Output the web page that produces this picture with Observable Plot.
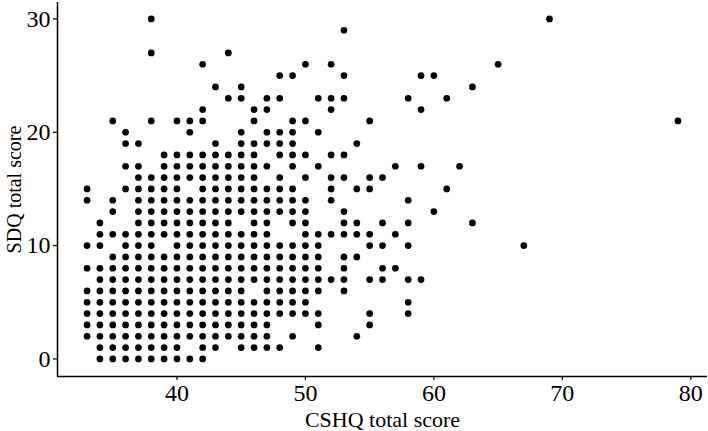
<!DOCTYPE html>
<html>
<head>
<meta charset="utf-8">
<script src="https://cdn.jsdelivr.net/npm/d3@7"></script>
<script src="https://cdn.jsdelivr.net/npm/@observablehq/plot@0.6"></script>
<style>
  html, body { margin: 0; padding: 0; background: #fff; }
  #chart svg { display: block; }
</style>
</head>
<body>
<div id="chart"></div>
<script>
// CSHQ total score values observed at each SDQ total score (0..30)
const sdq00 = [34,35,36,37,38,39,40,41,42];
const sdq01 = [34,35,36,37,38,39,40,42,43,45,46,47,48,51];
const sdq02 = [33,34,35,36,37,38,39,40,41,42,43,44,45,46,47,49,54];
const sdq03 = [33,34,35,36,37,38,39,40,41,42,43,44,45,46,47,51,55];
const sdq04 = [33,34,35,36,37,38,39,40,41,42,43,44,45,46,47,48,49,50,51,55,58];
const sdq05 = [33,34,35,36,37,38,39,40,41,42,43,44,45,46,47,48,49,50,58];
const sdq06 = [33,34,35,36,37,38,39,40,41,42,43,44,45,47,48,49,50,51,53];
const sdq07 = [34,35,36,37,38,39,40,41,42,43,44,45,46,47,48,49,50,51,52,53,55,56,58,59];
const sdq08 = [33,34,35,36,37,38,39,40,41,42,43,44,45,46,47,48,49,50,51,53,56,57];
const sdq09 = [35,36,37,38,39,40,41,42,43,44,45,46,47,48,49,50,51,53,54];
const sdq10 = [33,34,36,37,38,40,41,42,43,44,45,46,47,48,49,50,51,55,56,58,67];
const sdq11 = [34,35,36,37,38,39,40,41,42,43,44,45,46,47,50,51,52,53,54,55,57];
const sdq12 = [34,37,38,39,40,41,42,43,44,46,47,49,50,53,54,56,58,63];
const sdq13 = [35,37,38,39,40,41,42,43,44,45,46,47,48,49,50,53,60];
const sdq14 = [33,35,37,38,39,40,41,42,43,44,45,46,47,48,49,50,52,58];
const sdq15 = [33,36,37,38,39,40,42,43,44,45,46,47,48,49,52,54,55,61];
const sdq16 = [37,38,39,40,41,42,43,44,45,46,48,50,52,53,55,56];
const sdq17 = [36,37,39,40,41,42,43,44,45,46,47,49,51,57,59,62];
const sdq18 = [39,40,41,42,43,44,45,46,48,49,50,52,53];
const sdq19 = [36,37,43,45,46,47,48,49,54];
const sdq20 = [36,41,45,47,48,49,51];
const sdq21 = [35,38,40,41,42,46,49,50,55,79];
const sdq22 = [42,46,47,52,59];
const sdq23 = [44,45,47,48,51,52,53,58,61];
const sdq24 = [43,45,63];
const sdq25 = [48,49,53,59,60];
const sdq26 = [42,50,52,65];
const sdq27 = [38,44];
const sdq28 = [];
const sdq29 = [53];
const sdq30 = [38,69];

const rows = [sdq00, sdq01, sdq02, sdq03, sdq04, sdq05, sdq06, sdq07, sdq08, sdq09,
  sdq10, sdq11, sdq12, sdq13, sdq14, sdq15, sdq16, sdq17, sdq18, sdq19,
  sdq20, sdq21, sdq22, sdq23, sdq24, sdq25, sdq26, sdq27, sdq28, sdq29, sdq30];

const xTicks = [40, 50, 60, 70, 80];
const yTicks = [0, 10, 20, 30];
const xTitle = "CSHQ total score";
const yTitle = "SDQ total score";

const data = rows.flatMap((xs, sdq) => xs.map(cshq => ({cshq, sdq})));

const xDomain = [30.7, 81.3];
const yDomain = [-1.55, 31.45];

const chart = Plot.plot({
  width: 708,
  height: 431,
  marginLeft: 57,
  marginRight: 1,
  marginTop: 2,
  marginBottom: 55,
  style: {fontFamily: "'Liberation Serif', 'Times New Roman', serif", color: "#000", background: "#fff", overflow: "visible"},
  x: {domain: xDomain},
  y: {domain: yDomain},
  marks: [
    Plot.axisX({ticks: xTicks, tickSize: 4, tickPadding: 3, fontSize: 24, label: null, strokeWidth: 1.2}),
    Plot.axisY({ticks: yTicks, tickSize: 4, tickPadding: 3, fontSize: 24, label: null, strokeWidth: 1.2}),
    Plot.ruleY([yDomain[0]], {stroke: "#000", strokeWidth: 1.5}),
    Plot.ruleX([xDomain[0]], {stroke: "#000", strokeWidth: 1.5}),
    Plot.dot(data, {x: "cshq", y: "sdq", r: 3.35, fill: "#000", stroke: null}),
    Plot.text([xTitle], {frameAnchor: "bottom", textAnchor: "middle", lineAnchor: "middle", dy: 43, fontSize: 22, fill: "#000"}),
    Plot.text([yTitle], {frameAnchor: "left", textAnchor: "middle", lineAnchor: "middle", rotate: -90, dx: -43, fontSize: 20, fill: "#000"})
  ]
});
document.getElementById("chart").appendChild(chart);
</script>
</body>
</html>
